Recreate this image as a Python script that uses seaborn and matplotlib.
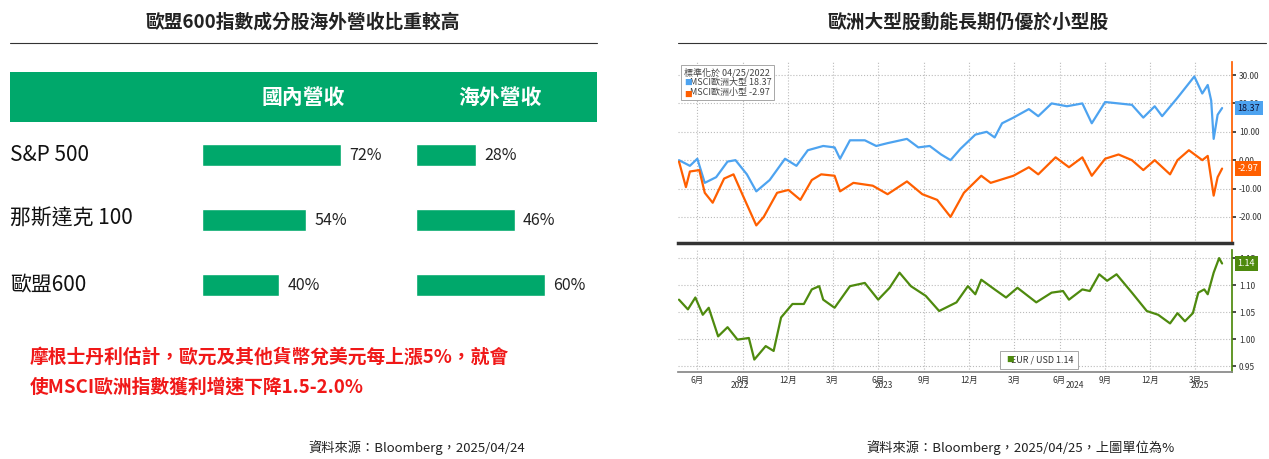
import matplotlib
matplotlib.use("Agg")
import matplotlib.pyplot as plt
import seaborn as sns
import pandas as pd
import numpy as np

sns.set_theme(style="white")
plt.rcParams['font.family'] = ['Noto Sans CJK TC', 'DejaVu Sans']

# ---- left data
markets = ["S&P 500", "那斯達克 100", "歐盟600"]
domestic = [72, 54, 40]
foreign = [28, 46, 60]

# ---- right data (days since 2022-04-25)
large_days = [0,22,37,52,75,98,114,137,156,183,214,237,260,291,314,325,345,375,398,421,460,483,506,529,548,568,598,621,637,652,675,706,725,752,783,814,833,860,887,914,937,960,975,1006,1040,1056,1067,1074,1079,1087,1096]
large_vals = [0,-2,0.5,-8,-6,-0.5,0,-5,-11,-7,0.5,-2,3.5,5,4.5,0.5,7,7,5,6,7.5,4.5,5,2,0,4,9,10,8,13,15,18,15.5,20,19,20,13,20.5,20,19.5,15,19,15.5,22,29.5,23.5,26.5,21,7.5,16,18.37]
small_days = [0,14,22,41,52,68,91,110,129,156,171,198,221,245,268,287,314,325,352,391,421,460,491,521,548,575,610,629,675,706,725,760,787,814,833,860,887,914,937,960,991,1006,1029,1056,1067,1079,1087,1096]
small_vals = [-0.5,-9.5,-4,-3.5,-11.5,-15,-6.5,-5,-12.5,-23,-20,-11.5,-10.5,-14,-7,-5,-5.5,-11,-8,-9,-12,-7.5,-12,-14,-20,-11.5,-5.5,-8,-5.5,-2.5,-5,1,-2.5,1,-5.5,0.5,2,0,-3.5,0,-5,0,3.5,0,1.5,-12.5,-6,-2.97]
eur_days = [0,18,33,48,60,79,98,118,141,152,175,191,206,229,252,268,283,291,314,345,375,402,425,445,468,498,525,560,583,598,610,637,660,683,721,752,775,787,814,829,848,864,883,914,944,967,991,1006,1021,1037,1048,1060,1067,1079,1090,1096]
eur_vals = [1.073,1.055,1.077,1.045,1.058,1.005,1.022,0.999,1.002,0.962,0.987,0.978,1.04,1.065,1.065,1.092,1.098,1.073,1.058,1.098,1.104,1.073,1.095,1.123,1.098,1.08,1.052,1.068,1.098,1.083,1.11,1.092,1.077,1.095,1.068,1.086,1.089,1.073,1.092,1.089,1.12,1.108,1.12,1.086,1.052,1.045,1.029,1.048,1.033,1.048,1.086,1.092,1.083,1.123,1.15,1.14]

start = pd.Timestamp("2022-04-25")
def todates(d): return start + pd.to_timedelta(d, unit="D")

W, H = 1269, 459
fig = plt.figure(figsize=(W/100, H/100), dpi=100)
def fx(x): return x / W
def fy(y): return 1 - y / H

GREEN = "#00A86B"
# ---------- left panel
fig.text(fx(303), fy(22), "歐盟600指數成分股海外營收比重較高", ha="center", va="center", fontsize=13.5, weight="bold", color="#222")
fig.add_artist(plt.Line2D([fx(10), fx(597)], [fy(43), fy(43)], color="#333", lw=0.8))
fig.add_artist(plt.Rectangle((fx(10), fy(122)), fx(587), 50/H, color=GREEN, lw=0))
fig.text(fx(303), fy(97), "國內營收", ha="center", va="center", fontsize=15, weight="bold", color="white")
fig.text(fx(500), fy(97), "海外營收", ha="center", va="center", fontsize=15, weight="bold", color="white")
rows_y = [155, 219, 285]
for m, y in zip(markets, rows_y):
    fig.text(fx(10), fy(y), m, ha="left", va="center", fontsize=15, weight="medium", color="#111")

def bar_ax(x0, vals, xmax):
    ax = fig.add_axes([fx(x0), fy(317.5), fx(200), 195/H])
    df = pd.DataFrame({"m": markets, "v": vals})
    sns.barplot(data=df, x="v", y="m", ax=ax, color=GREEN, width=22/65, saturation=1)
    ax.set_xlim(0, xmax)
    ax.set_ylim(2.5, -0.5)
    ax.set_xlabel("")
    ax.set_ylabel("")
    for i, v in enumerate(vals):
        ax.text(v + xmax * 0.04, i, f"{v}%", va="center", ha="left", fontsize=11.5, color="#222")
    ax.axis("off")
    return ax
bar_ax(202, domestic, 103.5)
bar_ax(416, foreign, 93)

fig.text(fx(30), fy(357), "摩根士丹利估計，歐元及其他貨幣兌美元每上漲5%，就會", fontsize=13.5, weight="bold", color="#F01818", va="center")
fig.text(fx(30), fy(387), "使MSCI歐洲指數獲利增速下降1.5-2.0%", fontsize=13.5, weight="bold", color="#F01818", va="center")
fig.text(fx(417), fy(448), "資料來源：Bloomberg，2025/04/24", ha="center", va="center", fontsize=9.5, color="#222")

# ---------- right panel
fig.text(fx(968), fy(22), "歐洲大型股動能長期仍優於小型股", ha="center", va="center", fontsize=13.5, weight="bold", color="#222")
fig.add_artist(plt.Line2D([fx(678), fx(1266)], [fy(43), fy(43)], color="#333", lw=0.8))
fig.text(fx(1020), fy(448), "資料來源：Bloomberg，2025/04/25，上圖單位為%", ha="center", va="center", fontsize=9.5, color="#222")

BLUE, ORANGE, EGREEN = "#4DA3F0", "#FF5F00", "#4E8A0E"
xl = (start - pd.Timedelta(days=2), start + pd.Timedelta(days=1116))
ax1 = fig.add_axes([fx(678), fy(243), fx(1232-678), 181/H])
ax2 = fig.add_axes([fx(678), fy(372), fx(1232-678), 122/H])
sns.lineplot(x=todates(large_days), y=large_vals, ax=ax1, color=BLUE, lw=1.6)
sns.lineplot(x=todates(small_days), y=small_vals, ax=ax1, color=ORANGE, lw=1.6)
sns.lineplot(x=todates(eur_days), y=eur_vals, ax=ax2, color=EGREEN, lw=1.6)

ticks = pd.date_range("2022-06-01", "2025-03-01", freq="3MS")
for ax in (ax1, ax2):
    ax.set_xlim(*xl)
    ax.set_xticks(ticks)
    ax.set_xlabel("")
    ax.set_ylabel("")
    ax.grid(True, color="#BBBBBB", ls=":", lw=0.8)
    ax.yaxis.tick_right()
    for s in ("left", "top"):
        ax.spines[s].set_visible(False)
    ax.tick_params(axis="y", labelsize=6, colors="#333", length=3, pad=2)
ax1.set_ylim(-29.2, 34.6)
ax1.set_yticks([-20, -10, 0, 10, 20, 30])
ax1.set_yticklabels([f"{v:.2f}" for v in [-20, -10, 0, 10, 20, 30]])
ax1.set_xticklabels([])
ax1.tick_params(axis="x", length=0)
ax1.spines["right"].set_color(ORANGE)
ax1.spines["bottom"].set_color("#333")
ax1.spines["bottom"].set_linewidth(2.5)
ax2.set_ylim(0.939, 1.165)
ax2.set_yticks([0.95, 1.0, 1.05, 1.1, 1.15])
ax2.set_yticklabels(["0.95", "1.00", "1.05", "1.10", "1.15"])
ax2.spines["right"].set_color(EGREEN)
ax2.spines["bottom"].set_color("#888")
ax2.set_xticklabels([f"{d.month}月" for d in ticks], fontsize=6, color="#333")
ax2.tick_params(axis="x", length=2, pad=1)
for yr, xpix in [("2022", 740), ("2023", 884), ("2024", 1075), ("2025", 1200)]:
    fig.text(fx(xpix), fy(386), yr, ha="center", va="center", fontsize=6, color="#333")

def badge(ax, y, txt, col):
    ax.annotate(txt, xy=(1.0, y), xycoords=("axes fraction", "data"), xytext=(4, 0), textcoords="offset points",
                ha="left", va="center", fontsize=6.5, color="white" if col != BLUE else "#113", zorder=10,
                bbox=dict(boxstyle="square,pad=0.3", fc=col, ec="none"), annotation_clip=False)
badge(ax1, large_vals[-1], f"{large_vals[-1]:.2f}", BLUE)
badge(ax1, small_vals[-1], f"{small_vals[-1]:.2f}", ORANGE)
badge(ax2, eur_vals[-1], f"{eur_vals[-1]:.2f}", EGREEN)

legend_txt = ("標準化於 04/25/2022\n"
              f"   MSCI歐洲大型 {large_vals[-1]:.2f}\n"
              f"   MSCI歐洲小型 {small_vals[-1]:.2f}")
ax1.text(0.01, 0.97, legend_txt, transform=ax1.transAxes, fontsize=6.5, color="#444", va="top", linespacing=1.15,
         bbox=dict(boxstyle="square,pad=0.3", fc="white", ec="#999", lw=0.6))
ax1.text(0.011, 0.885, "■", transform=ax1.transAxes, fontsize=5.5, color=BLUE, va="center")
ax1.text(0.011, 0.82, "■", transform=ax1.transAxes, fontsize=5.5, color=ORANGE, va="center")
ax2.text(0.59, 0.1, f"   EUR / USD {eur_vals[-1]:.2f}", transform=ax2.transAxes, fontsize=6.5, color="#333", va="center",
         bbox=dict(boxstyle="square,pad=0.5", fc="white", ec="#999", lw=0.6))
ax2.text(0.592, 0.1, "■", transform=ax2.transAxes, fontsize=5.5, color=EGREEN, va="center")

fig.savefig("out.png", dpi=100)
